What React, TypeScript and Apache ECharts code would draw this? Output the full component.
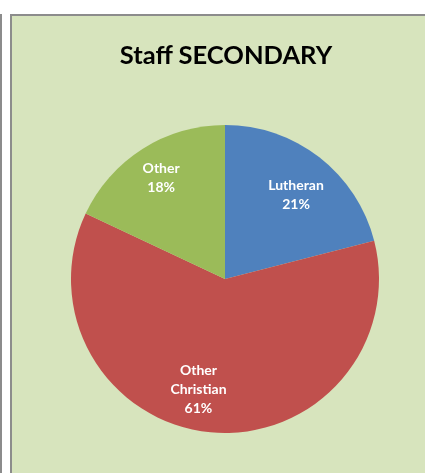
import React, { useEffect, useRef } from "react";
import * as echarts from "echarts";

const categories = ["Lutheran", "Other Christian", "Other"];
const values = [21, 61, 18];
const colors = ["#4F81BD", "#C0504D", "#9BBB59"];
const labelOffsets: number[][] = [[22, -22], [-19, 30], [-21, -34]];

export default function App() {
  const ref = useRef<HTMLDivElement>(null);
  useEffect(() => {
    const chart = echarts.init(ref.current!, null, { renderer: "svg" });
    chart.setOption({
      animation: false,
      graphic: [
        { type: "rect", shape: { x: 0, y: 14, width: 2, height: 470 }, style: { fill: "#8C8C8C" }, z: 0 },
        { type: "rect", shape: { x: 11, y: 15, width: 430, height: 470 }, style: { fill: "#D7E4BD", stroke: "#8C8C8C", lineWidth: 2 }, z: 0 },
      ],
      title: {
        text: "Staff SECONDARY",
        left: 221,
        textAlign: "center",
        top: 36,
        textStyle: { fontFamily: "Lato", fontWeight: "bold", fontSize: 25.5, color: "#000" },
      },
      series: [
        {
          type: "pie",
          center: [225, 279],
          radius: 154,
          startAngle: 90,
          clockwise: true,
          z: 2,
          label: {
            show: true,
            position: "inside",
            formatter: (p: any) => p.name.replace(" ", "\n") + "\n" + p.value + "%",
            color: "#fff",
            fontFamily: "Lato",
            fontWeight: "bold",
            fontSize: 14,
            lineHeight: 19,
          },
          itemStyle: { borderWidth: 0 },
          emphasis: { disabled: true },
          data: categories.map((c, i) => ({
            name: c,
            value: values[i],
            itemStyle: { color: colors[i] },
            label: { offset: labelOffsets[i] },
          })),
        },
      ],
    });
    return () => chart.dispose();
  }, []);
  return <div ref={ref} style={{ position: "fixed", left: 0, top: 0, width: 425, height: 473 }} />;
}
